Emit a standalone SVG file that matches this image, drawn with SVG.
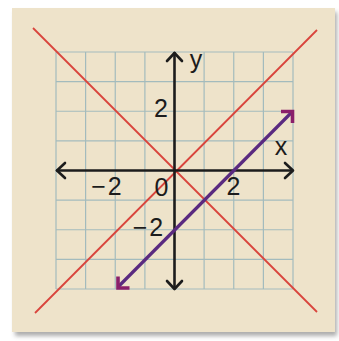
<svg xmlns="http://www.w3.org/2000/svg" width="339" height="341" viewBox="0 0 339 341">
  <defs>
    <filter id="sh" x="-10%" y="-10%" width="120%" height="120%">
      <feGaussianBlur stdDeviation="2"/>
    </filter>
  </defs>
  <style>
    .grid line { stroke: #a3bbbd; stroke-width: 1.2; }
    .axis { stroke: #1c1c1c; stroke-width: 2.6; fill: none; stroke-linecap: round; stroke-linejoin: round; }
    .red { stroke: #d9443c; stroke-width: 1.8; fill: none; }
    .purple { stroke: #5a2a80; stroke-width: 3.2; fill: none; }
    .head { stroke: #8a1f6a; stroke-width: 3.6; fill: none; stroke-linecap: butt; stroke-linejoin: miter; }
    text { font-family: "Liberation Sans", Arial, sans-serif; font-size: 25px; fill: #1c1c1c; text-anchor: middle; }
  </style>
  <rect width="339" height="341" fill="#ffffff"/>
  <rect x="15" y="12" width="322" height="324" fill="#8a8a8a" filter="url(#sh)" opacity="0.7"/>
  <rect x="12" y="8" width="323" height="324" fill="#eee3ca"/>

  <g id="grid" class="grid">
    <line x1="56" y1="52" x2="56" y2="289"/>
    <line x1="85.6" y1="52" x2="85.6" y2="289"/>
    <line x1="115.25" y1="52" x2="115.25" y2="289"/>
    <line x1="144.9" y1="52" x2="144.9" y2="289"/>
    <line x1="204.1" y1="52" x2="204.1" y2="289"/>
    <line x1="233.75" y1="52" x2="233.75" y2="289"/>
    <line x1="263.4" y1="52" x2="263.4" y2="289"/>
    <line x1="293" y1="52" x2="293" y2="289"/>
    <line x1="56" y1="52" x2="293" y2="52"/>
    <line x1="56" y1="81.6" x2="293" y2="81.6"/>
    <line x1="56" y1="111.25" x2="293" y2="111.25"/>
    <line x1="56" y1="140.9" x2="293" y2="140.9"/>
    <line x1="56" y1="200.1" x2="293" y2="200.1"/>
    <line x1="56" y1="229.75" x2="293" y2="229.75"/>
    <line x1="56" y1="259.4" x2="293" y2="259.4"/>
    <line x1="56" y1="289" x2="293" y2="289"/>
  </g>

  <g id="connectors">
    <line class="red" x1="33" y1="28" x2="317" y2="312"/>
    <line class="red" x1="35" y1="313" x2="317" y2="30"/>
    <line class="axis" x1="57" y1="170.5" x2="292" y2="170.5"/>
    <polyline class="axis" points="65,163 57,170.5 65,178"/>
    <polyline class="axis" points="285,163 293,170.5 285,178"/>
    <line class="axis" x1="174.5" y1="53" x2="174.5" y2="288"/>
    <polyline class="axis" points="167,61 174.5,53 182,61"/>
    <polyline class="axis" points="167,281 174.5,289 182,281"/>
    <line class="purple" x1="118" y1="287" x2="292" y2="112"/>
    <polyline class="head" points="281,111.5 292.5,111.5 292.5,123"/>
    <polyline class="head" points="118,276.5 118,288 129.5,288"/>
  </g>

  <g id="labels">
    <text x="196" y="68">y</text>
    <text x="161" y="117">2</text>
    <text x="281" y="155">x</text>
    <text x="107.5" y="195" letter-spacing="2">−2</text>
    <text x="161.5" y="196">0</text>
    <text x="233.5" y="195">2</text>
    <text x="149" y="236" letter-spacing="2">−2</text>
  </g>
</svg>
